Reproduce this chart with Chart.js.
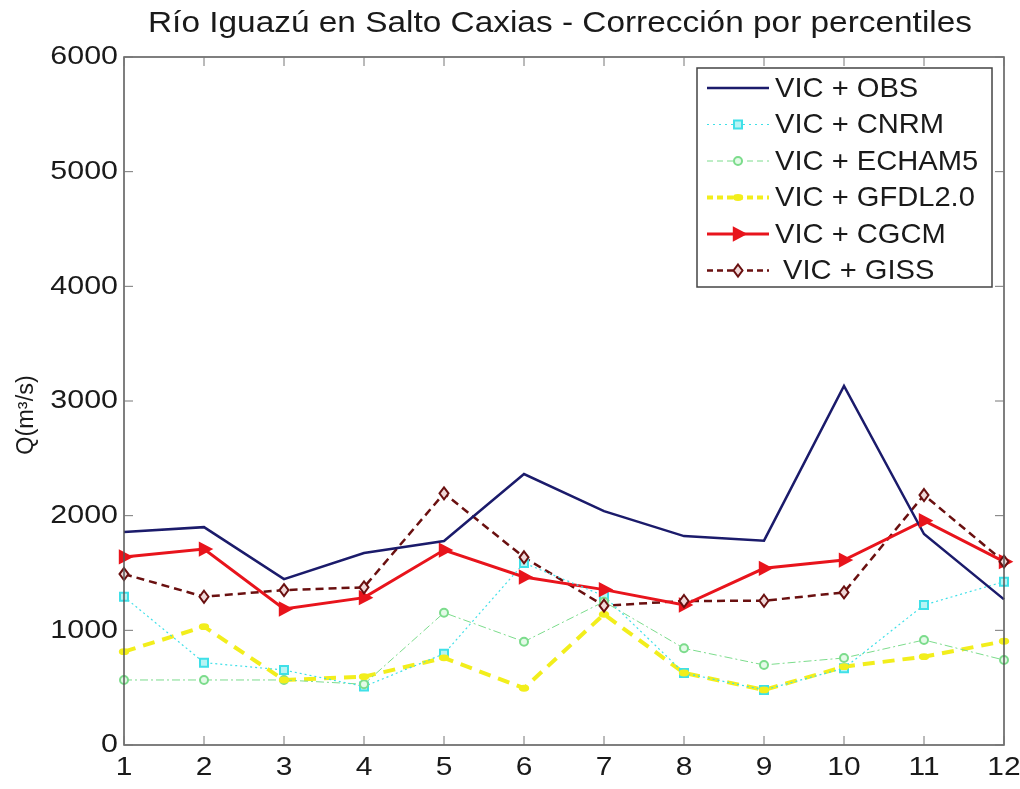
<!DOCTYPE html>
<html>
<head>
<meta charset="utf-8">
<script src="https://cdn.jsdelivr.net/npm/chart.js@4.4.0/dist/chart.umd.min.js"></script>
<style>
  html, body { margin: 0; padding: 0; background: #fff; }
  #wrap { width: 1020px; height: 789px; }
</style>
</head>
<body>
<div id="wrap"><canvas id="caudales"></canvas></div>
<script>
// Caudales medios mensuales (m3/s) simulados con VIC
const meses = ['1', '2', '3', '4', '5', '6', '7', '8', '9', '10', '11', '12'];
const vicObs    = [1857, 1900, 1447, 1674, 1779, 2363, 2040, 1822, 1782, 3131, 1840, 1270];
const vicCnrm   = [1293, 718, 654, 510, 795, 1587, 1300, 628, 480, 669, 1221, 1424];
const vicEcham5 = [567, 567, 567, 530, 1154, 901, 1250, 843, 698, 759, 916, 741];
const vicGfdl   = [814, 1032, 567, 596, 760, 495, 1140, 628, 480, 683, 770, 905];
const vicCgcm   = [1640, 1709, 1186, 1285, 1700, 1465, 1355, 1221, 1541, 1613, 1956, 1599];
const vicGiss   = [1491, 1293, 1351, 1375, 2195, 1637, 1215, 1256, 1258, 1331, 2180, 1599];
const yTicks = [0, 1000, 2000, 3000, 4000, 5000, 6000];

const titulo = 'Río Iguazú en Salto Caxias - Corrección por percentiles';
const tituloY = 'Q(m³/s)';
const FUENTE = '"Liberation Sans", Arial, sans-serif';

// texto con estiramiento horizontal (la figura original viene ensanchada)
function texto(ctx, str, x, y, size, ancho, align, giro) {
  ctx.save();
  ctx.translate(x, y);
  if (giro) ctx.rotate(giro);
  ctx.scale(ancho, 1);
  ctx.font = size + 'px ' + FUENTE;
  ctx.fillStyle = '#1a1a1a';
  ctx.textAlign = align || 'left';
  ctx.textBaseline = 'middle';
  ctx.fillText(str, 0, 0);
  ctx.restore();
}

// marcador dibujado a mano (también se usa en la leyenda)
function marcador(ctx, tipo, x, y, r, color, relleno) {
  ctx.save();
  ctx.strokeStyle = color;
  ctx.fillStyle = relleno || color;
  ctx.lineWidth = 2;
  ctx.setLineDash([]);
  ctx.beginPath();
  if (tipo === 'rect') {
    ctx.rect(x - r, y - r, 2 * r, 2 * r);
  } else if (tipo === 'circle') {
    ctx.arc(x, y, r, 0, Math.PI * 2);
  } else if (tipo === 'triR') {
    ctx.moveTo(x + r * 1.2, y);
    ctx.lineTo(x - r * 0.7, y - r);
    ctx.lineTo(x - r * 0.7, y + r);
    ctx.closePath();
  } else if (tipo === 'diamond') {
    ctx.moveTo(x, y - r);
    ctx.lineTo(x + r * 0.75, y);
    ctx.lineTo(x, y + r);
    ctx.lineTo(x - r * 0.75, y);
    ctx.closePath();
  } else if (tipo === 'dot') {
    ctx.ellipse(x, y, r * 1.4, r * 0.8, 0, 0, Math.PI * 2);
  }
  ctx.fill();
  ctx.stroke();
  ctx.restore();
}

// estilos de cada serie
const series = [
  { label: 'VIC + OBS',     data: vicObs,    color: '#1b1b6b', ancho: 2.5, dash: [],           punto: null,      r: 0, relleno: null },
  { label: 'VIC + CNRM',    data: vicCnrm,   color: '#3fe0e8', ancho: 1.2, dash: [2, 3],       punto: 'rect',    r: 4, relleno: '#b8f4f4' },
  { label: 'VIC + ECHAM5',  data: vicEcham5, color: '#7cdc8c', ancho: 1,   dash: [8, 3, 2, 3], punto: 'circle',  r: 4, relleno: '#e4fae8' },
  { label: 'VIC + GFDL2.0', data: vicGfdl,   color: '#f2ee1c', ancho: 4,   dash: [12, 8],      punto: 'dot',     r: 3, relleno: '#f2ee1c' },
  { label: 'VIC + CGCM',    data: vicCgcm,   color: '#e8141c', ancho: 3,   dash: [],           punto: 'triR',    r: 6, relleno: '#e8141c' },
  { label: 'VIC + GISS',    data: vicGiss,   color: '#6a1010', ancho: 2.5, dash: [8, 5],       punto: 'diamond', r: 6, relleno: '#f0d8d8' }
];

// marco tipo MATLAB con marcas hacia dentro, etiquetas y títulos
const marco = {
  id: 'marco',
  afterDraw(chart) {
    const { ctx, chartArea: a, scales: { x, y } } = chart;
    ctx.save();
    ctx.strokeStyle = '#555';
    ctx.lineWidth = 1.5;
    ctx.strokeRect(a.left, a.top, a.right - a.left, a.bottom - a.top);
    ctx.lineWidth = 1;
    ctx.strokeStyle = '#777';
    ctx.beginPath();
    meses.forEach((m, i) => {
      const px = x.getPixelForValue(i);
      ctx.moveTo(px, a.bottom); ctx.lineTo(px, a.bottom - 9);
      ctx.moveTo(px, a.top); ctx.lineTo(px, a.top + 9);
    });
    yTicks.forEach(v => {
      const py = y.getPixelForValue(v);
      ctx.moveTo(a.left, py); ctx.lineTo(a.left + 9, py);
      ctx.moveTo(a.right, py); ctx.lineTo(a.right - 9, py);
    });
    ctx.stroke();
    ctx.restore();

    meses.forEach((m, i) => texto(ctx, m, x.getPixelForValue(i), a.bottom + 23, 26, 1.15, 'center'));
    yTicks.forEach(v => texto(ctx, String(v), a.left - 6, y.getPixelForValue(v), 26, 1.17, 'right'));
    texto(ctx, tituloY, 27, (a.top + a.bottom) / 2 + 14, 23, 1.02, 'center', -Math.PI / 2);

    ctx.save();
    ctx.font = '29px ' + FUENTE;
    const w = ctx.measureText(titulo).width;
    ctx.restore();
    texto(ctx, titulo, 560, 24, 29, 824 / w, 'center');
  }
};

// marcadores propios sobre las líneas
const marcadores = {
  id: 'marcadores',
  afterDatasetsDraw(chart) {
    const ctx = chart.ctx;
    chart.data.datasets.forEach((ds, i) => {
      const s = series[i];
      if (!s.punto) return;
      chart.getDatasetMeta(i).data.forEach(p => {
        marcador(ctx, s.punto, p.x, p.y, s.r, s.color, s.relleno);
      });
    });
  }
};

// leyenda en recuadro, esquina superior derecha
const leyenda = {
  id: 'leyenda',
  afterDraw(chart) {
    const { ctx, chartArea: a } = chart;
    const w = 295, h = 219;
    const x0 = a.right - 12 - w, y0 = a.top + 11;
    ctx.save();
    ctx.fillStyle = '#fff';
    ctx.fillRect(x0, y0, w, h);
    ctx.strokeStyle = '#444';
    ctx.lineWidth = 1.5;
    ctx.strokeRect(x0, y0, w, h);
    series.forEach((s, i) => {
      const yy = y0 + 20 + i * 36.5;
      ctx.strokeStyle = s.color;
      ctx.lineWidth = s.ancho;
      ctx.setLineDash(s.dash.length ? [Math.min(s.dash[0], 6), 4] : []);
      ctx.beginPath();
      ctx.moveTo(x0 + 10, yy);
      ctx.lineTo(x0 + 72, yy);
      ctx.stroke();
      if (s.punto) marcador(ctx, s.punto, x0 + 41, yy, s.r, s.color, s.relleno);
      texto(ctx, s.label, x0 + (i === 5 ? 86 : 78), yy + 1, 28, 1.04, 'left');
    });
    ctx.restore();
  }
};

new Chart(document.getElementById('caudales'), {
  type: 'line',
  data: {
    labels: meses,
    datasets: series.map(s => ({
      label: s.label,
      data: s.data,
      borderColor: s.color,
      borderWidth: s.ancho,
      borderDash: s.dash,
      pointRadius: 0,
      tension: 0,
      fill: false
    }))
  },
  options: {
    responsive: true,
    maintainAspectRatio: false,
    animation: false,
    layout: { padding: { left: 0, right: 16, top: 57, bottom: 0 } },
    plugins: {
      legend: { display: false },
      tooltip: { enabled: false },
      title: { display: false }
    },
    scales: {
      x: {
        offset: false,
        grid: { display: false },
        border: { display: false },
        ticks: { display: false },
        afterFit(scale) { scale.height = 44; }
      },
      y: {
        min: 0,
        max: 6000,
        grid: { display: false },
        border: { display: false },
        ticks: { display: false },
        afterFit(scale) { scale.width = 124; }
      }
    }
  },
  plugins: [marco, marcadores, leyenda]
});
</script>
</body>
</html>
